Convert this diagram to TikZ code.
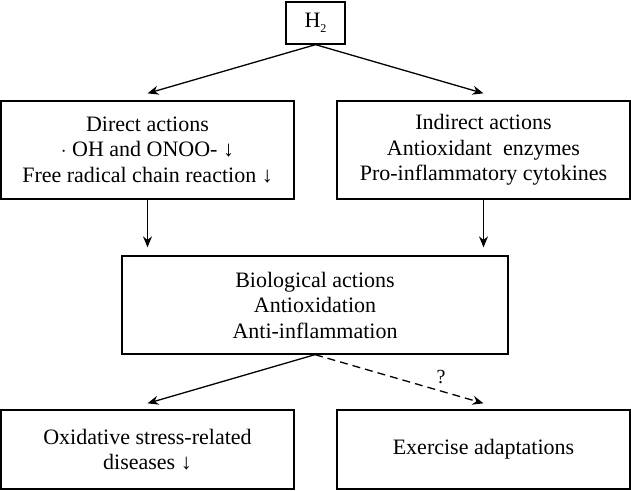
\documentclass[tikz,border=0pt]{standalone}
\usepackage{fontspec}
\setmainfont{Liberation Serif}
\usetikzlibrary{arrows.meta,calc}
\begin{document}
\begin{tikzpicture}[x=1pt,y=-1pt,
  box/.style={draw,line width=1.3pt,align=center,inner sep=0pt,font=\fontsize{22}{25.5}\selectfont},
  arr/.style={line width=1.3pt,-{Stealth[length=11pt,width=9pt]}}]
\useasboundingbox (0,0) rectangle (631,490);
\node[box,minimum width=59pt,minimum height=42pt] (h2) at (315.5,23) {H\raisebox{-5pt}{\fontsize{12}{12}\selectfont 2}};
\node[box,minimum width=293pt,minimum height=98pt] (direct) at (147.5,150) {Direct actions\\ $\cdot$ OH and ONOO- ↓\\ Free radical chain reaction ↓};
\node[box,minimum width=293pt,minimum height=98pt] (indirect) at (483.5,150) {Indirect actions\\ Antioxidant\ \ enzymes\\ Pro-inflammatory cytokines};
\node[box,minimum width=386pt,minimum height=98pt] (bio) at (315,305) {Biological actions\\ Antioxidation\\ Anti-inflammation};
\node[box,minimum width=293pt,minimum height=79pt] (oxid) at (147.5,449.5) {Oxidative stress-related\\ diseases ↓};
\node[box,minimum width=293pt,minimum height=79pt] (exer) at (483.5,449.5) {Exercise adaptations};
\coordinate (tl) at ([yshift=7pt]direct.north);
\coordinate (tr) at ([yshift=7pt]indirect.north);
\draw[arr] (h2.south) -- (tl);
\draw[arr] (h2.south) -- (tr);
\draw[arr] (direct.south) -- ([yshift=8pt]bio.north -| direct.south);
\draw[arr] (indirect.south) -- ([yshift=8pt]bio.north -| indirect.south);
\draw[arr] (bio.south) -- ([yshift=6pt]oxid.north);
\draw[arr,dash pattern=on 8pt off 5pt] (bio.south) -- ([yshift=6pt]exer.north);
\node[font=\fontsize{20}{20}\selectfont,inner sep=0pt] (q) at (441,377) {?};
\end{tikzpicture}
\end{document}
